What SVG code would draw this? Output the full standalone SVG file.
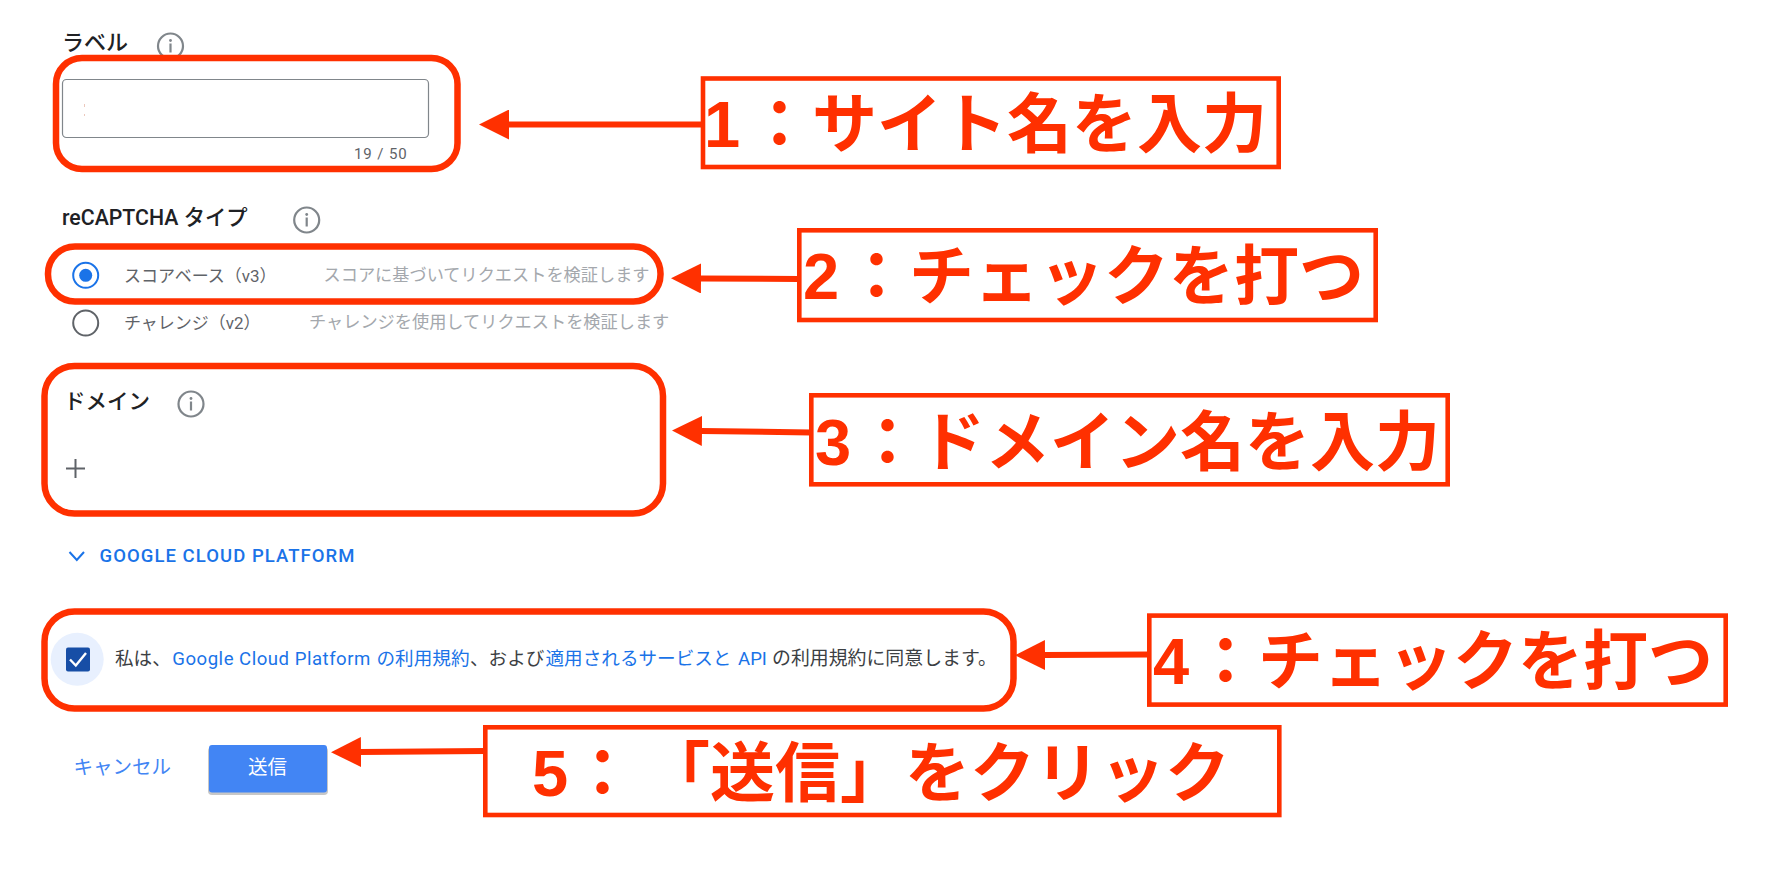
<svg xmlns="http://www.w3.org/2000/svg" width="1770" height="872" viewBox="0 0 1770 872">
<style>
text{font-family:"Roboto","Noto Sans CJK JP",sans-serif}
.hl{fill:none;stroke:#ff3000;stroke-width:6.5}
.box{fill:#fff;stroke:#ff3000;stroke-width:4.6}
.call{font-family:"Liberation Sans","Noto Sans CJK JP",sans-serif;font-weight:700;font-size:65px;fill:#ff3000}
.h{font-weight:500;fill:#202124}
.opt{font-size:17px;fill:#5f6368}
.hint{font-size:17.2px;fill:#a4a8ad}
.link{fill:#1a73e8}
.ic{fill:none;stroke:#80868b;stroke-width:2.2}
.icf{fill:#80868b}
.conn{stroke:#ff3000;stroke-width:6;fill:none}
</style>
<defs>
<marker id="head" viewBox="0 0 30 30" refX="1" refY="15" markerWidth="30" markerHeight="30" markerUnits="userSpaceOnUse" orient="auto"><path d="M0 0L30 15L0 30Z" fill="#ff3000"/></marker>
<g id="info"><circle r="12.5" class="ic"/><circle cy="-5.5" r="1.4" class="icf"/><rect x="-1.1" y="-2.5" width="2.2" height="9" class="icf"/></g>
</defs>
<rect width="1770" height="872" fill="#fff"/>

<g id="field-label">
<text x="62" y="50" class="h" font-size="22">ラベル</text>
<use href="#info" x="170.5" y="46"/>
<rect x="62.5" y="79.5" width="366" height="58" rx="4" fill="#fff" stroke="#80868b" stroke-width="1.2"/>
<rect x="84" y="104" width="1" height="3" fill="#ecc8bc"/>
<rect x="84" y="114" width="1" height="2" fill="#ecc8bc"/>
<text x="354" y="159" font-size="15" letter-spacing="0.9" fill="#5f6368">19 / 50</text>
<rect x="56" y="58" width="401.500" height="111" rx="26" class="hl"/>
</g>

<g id="field-type">
<text x="62" y="225" class="h" font-size="21.300">reCAPTCHA タイプ</text>
<use href="#info" x="306.700" y="220"/>
<circle cx="85.700" cy="275.300" r="12.500" fill="none" stroke="#1a73e8" stroke-width="2"/>
<circle cx="85.700" cy="275.300" r="6.500" fill="#1a73e8"/>
<text x="124" y="282" class="opt">スコアベース（v3）</text>
<text x="323.500" y="281" class="hint">スコアに基づいてリクエストを検証します</text>
<circle cx="85.700" cy="323" r="12.500" fill="none" stroke="#5f6368" stroke-width="2"/>
<text x="124" y="329" class="opt">チャレンジ（v2）</text>
<text x="309" y="328" class="hint">チャレンジを使用してリクエストを検証します</text>
<rect x="48" y="246.500" width="612.500" height="55" rx="27" class="hl"/>
</g>

<g id="field-domain">
<text x="64" y="409" class="h" font-size="21.500">ドメイン</text>
<use href="#info" x="191" y="404"/>
<path d="M75.500 459V478M66 468.500H85" stroke="#5f6368" stroke-width="2" fill="none"/>
<rect x="44.500" y="366" width="618.500" height="147.500" rx="30" class="hl"/>
</g>

<g id="gcp-toggle">
<path d="M69.500 552L76.800 560L84 552" stroke="#1a73e8" stroke-width="2" fill="none"/>
<text x="99.500" y="562" font-size="18.500" font-weight="500" class="link" textLength="255">GOOGLE CLOUD PLATFORM</text>
</g>

<g id="field-terms">
<circle cx="77.200" cy="659.300" r="26.500" fill="#e8f0fe"/>
<rect x="66" y="647.500" width="24" height="24" rx="2" fill="#174ea6"/>
<path d="M70 659.500L75.800 665.500L86 653" stroke="#fff" stroke-width="2.400" fill="none"/>
<text y="665" font-size="18.600" fill="#3c4043"><tspan x="115">私は、</tspan><tspan x="172.300" class="link" letter-spacing="0.500">Google Cloud Platform</tspan><tspan x="376.500" class="link">の利用規約</tspan><tspan x="470">、および</tspan><tspan x="545.500" class="link">適用されるサービスと</tspan><tspan x="738" class="link">API</tspan><tspan x="772" font-size="18.900">の利用規約に同意します。</tspan></text>
<rect x="44.500" y="611.500" width="969" height="97" rx="30" class="hl"/>
</g>

<g id="actions">
<text x="73.500" y="774" font-size="19.500" fill="#4285f4">キャンセル</text>
<rect x="208" y="747" width="120" height="48" rx="4" fill="#000" opacity="0.22"/>
<rect x="209" y="745" width="118" height="47.500" rx="3" fill="#4285f4"/>
<text x="248" y="774" font-size="19.500" fill="#fff">送信</text>
</g>

<g id="connectors">
<line x1="703" y1="124.500" x2="508" y2="124.500" class="conn" marker-end="url(#head)"/>
<line x1="799" y1="279" x2="700" y2="278.500" class="conn" marker-end="url(#head)"/>
<line x1="811" y1="432.500" x2="701" y2="431" class="conn" marker-end="url(#head)"/>
<line x1="1150" y1="654.500" x2="1044" y2="655" class="conn" marker-end="url(#head)"/>
<line x1="485" y1="751" x2="360" y2="752" class="conn" marker-end="url(#head)"/>
</g>

<g id="callout-1">
<rect x="703" y="78.500" width="575.700" height="88.500" class="box"/>
<text class="call" y="147"><tspan x="704">1</tspan><tspan x="747">：</tspan><tspan x="812">サイト名を入力</tspan></text>
</g>
<g id="callout-2">
<rect x="799.300" y="230.300" width="576.400" height="89.700" class="box"/>
<text class="call" y="299.300"><tspan x="803">2</tspan><tspan x="844">：</tspan><tspan x="909">チェックを打つ</tspan></text>
</g>
<g id="callout-3">
<rect x="811.300" y="395.300" width="636.400" height="89" class="box"/>
<text class="call" y="465"><tspan x="815">3</tspan><tspan x="855">：</tspan><tspan x="920">ドメイン名を入力</tspan></text>
</g>
<g id="callout-4">
<rect x="1149.300" y="615.600" width="576.400" height="89" class="box"/>
<text class="call" y="684"><tspan x="1153">4</tspan><tspan x="1193">：</tspan><tspan x="1258">チェックを打つ</tspan></text>
</g>
<g id="callout-5">
<rect x="485.300" y="727.300" width="794" height="87.700" class="box"/>
<text class="call" y="796"><tspan x="532">5</tspan><tspan x="570">：</tspan><tspan x="645">「送信」をクリック</tspan></text>
</g>
</svg>
